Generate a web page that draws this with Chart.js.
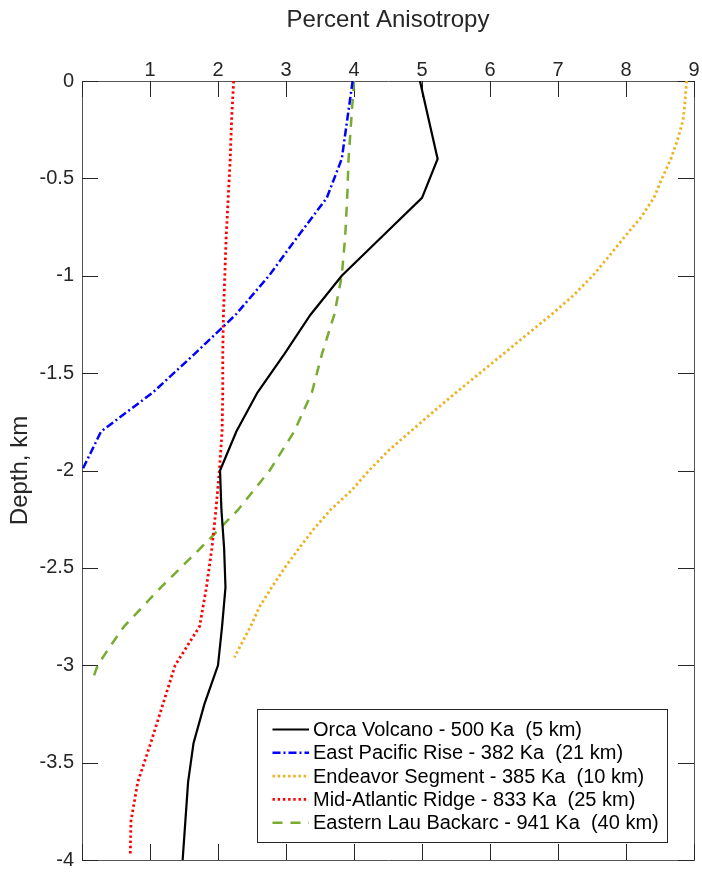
<!DOCTYPE html>
<html>
<head>
<meta charset="utf-8">
<script src="https://cdn.jsdelivr.net/npm/chart.js@4.4.1/dist/chart.umd.min.js"></script>
<style>
html,body{margin:0;padding:0;background:#fff;}
#wrap{width:702px;height:873px;position:relative;}
</style>
</head>
<body>
<div id="wrap"><canvas id="c"></canvas></div>
<script>
// ---- data ----
const xTickValues = [0, 1, 2, 3, 4, 5, 6, 7, 8, 9];
const yTickValues = [0, -0.5, -1, -1.5, -2, -2.5, -3, -3.5, -4];
const xTitle = 'Percent Anisotropy';
const yTitle = 'Depth, km';

const seriesLabels = [
  'Orca Volcano - 500 Ka  (5 km)',
  'East Pacific Rise - 382 Ka  (21 km)',
  'Endeavor Segment - 385 Ka  (10 km)',
  'Mid-Atlantic Ridge - 833 Ka  (25 km)',
  'Eastern Lau Backarc - 941 Ka  (40 km)'
];

const orcaDepth  = [0, -0.2, -0.4, -0.6, -0.8, -1.0, -1.2, -1.4, -1.6, -1.8, -2.0, -2.2, -2.4, -2.6, -2.8, -3.0, -3.2, -3.4, -3.6, -3.8, -4.0];
const orcaValues = [4.97, 5.10, 5.23, 5.00, 4.41, 3.82, 3.36, 2.98, 2.58, 2.27, 2.03, 2.05, 2.09, 2.11, 2.06, 2.00, 1.80, 1.64, 1.56, 1.52, 1.48];

const eprDepth  = [0, -0.2, -0.4, -0.6, -0.8, -1.0, -1.2, -1.4, -1.6, -1.8, -2.0];
const eprValues = [3.98, 3.90, 3.82, 3.60, 3.17, 2.75, 2.26, 1.66, 1.04, 0.28, 0.0];

const endDepth  = [0, -0.1, -0.2, -0.3, -0.4, -0.5, -0.6, -0.7, -0.8, -0.9, -1.0, -1.1, -1.2, -1.3, -1.4, -1.5, -1.6, -1.7, -1.8, -1.9, -2.0, -2.1, -2.2, -2.3, -2.4, -2.5, -2.6, -2.7, -2.8, -2.9, -2.96];
const endValues = [8.89, 8.87, 8.84, 8.76, 8.66, 8.53, 8.41, 8.22, 7.98, 7.75, 7.51, 7.23, 6.90, 6.55, 6.20, 5.85, 5.50, 5.16, 4.83, 4.50, 4.22, 3.97, 3.66, 3.41, 3.19, 2.98, 2.79, 2.61, 2.48, 2.33, 2.24];

const marDepth  = [0, -0.2, -0.4, -0.6, -0.8, -1.0, -1.2, -1.4, -1.6, -1.8, -2.0, -2.2, -2.4, -2.6, -2.8, -3.0, -3.2, -3.4, -3.6, -3.8, -3.97];
const marValues = [2.23, 2.20, 2.18, 2.15, 2.12, 2.10, 2.08, 2.07, 2.07, 2.06, 2.02, 1.97, 1.91, 1.83, 1.73, 1.37, 1.19, 1.01, 0.82, 0.72, 0.71];

const lauDepth  = [0, -0.2, -0.4, -0.6, -0.8, -1.0, -1.2, -1.4, -1.6, -1.8, -2.0, -2.2, -2.4, -2.6, -2.8, -2.9, -3.0, -3.07];
const lauValues = [4.00, 3.96, 3.92, 3.90, 3.87, 3.82, 3.71, 3.53, 3.38, 3.12, 2.76, 2.30, 1.74, 1.16, 0.62, 0.42, 0.23, 0.16];

// ---- build ----
const zip = (vals, depth) => vals.map((v, i) => ({x: v, y: depth[i]}));
const FONT = '"Liberation Sans", Arial, Helvetica, sans-serif';
const TXT = '#262626';

const styles = [
  {color: '#000000', dash: [], width: 2.2},
  {color: '#0000ff', dash: [8, 3, 2, 3], width: 2.5},
  {color: '#EDB120', dash: [2.4, 2.8], width: 2.8},
  {color: '#ff0000', dash: [2.4, 2.8], width: 2.8},
  {color: '#77AC30', dash: [10, 8], width: 2.5}
];
const seriesData = [
  zip(orcaValues, orcaDepth),
  zip(eprValues, eprDepth),
  zip(endValues, endDepth),
  zip(marValues, marDepth),
  zip(lauValues, lauDepth)
];

const datasets = seriesData.map((d, i) => ({
  label: seriesLabels[i],
  data: d,
  borderColor: styles[i].color,
  backgroundColor: styles[i].color,
  borderDash: styles[i].dash,
  borderWidth: styles[i].width,
  borderCapStyle: 'butt',
  pointRadius: 0,
  tension: 0,
  fill: false,
  xAxisID: 'x',
  yAxisID: 'y'
}));

const innerTicks = {
  id: 'innerTicks',
  beforeDatasetsDraw(chart) {
    const {ctx, chartArea: a, scales} = chart;
    const L = 16;
    ctx.save();
    ctx.strokeStyle = TXT;
    ctx.lineWidth = 1;
    ctx.beginPath();
    for (const t of scales.x.ticks) {
      const p = Math.round(scales.x.getPixelForValue(t.value)) + 0.5;
      ctx.moveTo(p, a.top); ctx.lineTo(p, a.top + L);
      ctx.moveTo(p, a.bottom); ctx.lineTo(p, a.bottom - L);
    }
    for (const t of scales.y.ticks) {
      const p = Math.round(scales.y.getPixelForValue(t.value)) + 0.5;
      ctx.moveTo(a.left, p); ctx.lineTo(a.left + L, p);
      ctx.moveTo(a.right, p); ctx.lineTo(a.right - L, p);
    }
    ctx.stroke();
    ctx.restore();
  }
};

const boxLegend = {
  id: 'boxLegend',
  afterDatasetsDraw(chart) {
    const {ctx, chartArea: a} = chart;
    const ds = chart.data.datasets;
    const right = a.right - 27, bottom = a.bottom - 18;
    const left = right - 410, top = bottom - 133;
    ctx.save();
    ctx.fillStyle = '#fff';
    ctx.fillRect(left, top, right - left, bottom - top);
    ctx.strokeStyle = TXT;
    ctx.lineWidth = 1;
    ctx.strokeRect(Math.round(left) + 0.5, Math.round(top) + 0.5, right - left, bottom - top);
    ctx.font = '20px ' + FONT;
    ctx.textBaseline = 'middle';
    ctx.textAlign = 'left';
    ds.forEach((d, i) => {
      const y = top + 20.5 + i * 23.3;
      ctx.beginPath();
      ctx.setLineDash(d.borderDash || []);
      ctx.strokeStyle = d.borderColor;
      ctx.lineWidth = d.borderWidth;
      ctx.moveTo(left + 15.5, y);
      ctx.lineTo(left + 52, y);
      ctx.stroke();
      ctx.setLineDash([]);
      ctx.fillStyle = '#000';
      ctx.fillText(d.label, left + 56, y + 1);
    });
    ctx.restore();
  }
};

new Chart(document.getElementById('c'), {
  type: 'line',
  data: {datasets},
  options: {
    responsive: true,
    maintainAspectRatio: false,
    animation: false,
    layout: {padding: 0},
    plugins: {legend: {display: false}, tooltip: {enabled: false}},
    scales: {
      x: {
        type: 'linear', position: 'top', min: 0, max: 9,
        afterBuildTicks: s => { s.ticks = xTickValues.map(v => ({value: v})); },
        afterFit: s => { s.height = 81; },
        grid: {display: false, drawTicks: false},
        border: {display: true, color: '#555', width: 1},
        ticks: {
          autoSkip: false, maxRotation: 0, padding: -1,
          color: TXT, font: {family: FONT, size: 20},
          callback: v => (v === 0 ? '' : String(v))
        },
        title: {display: true, text: xTitle, color: TXT, font: {family: FONT, size: 24}, padding: {top: 6, bottom: 0}}
      },
      x2: {
        type: 'linear', position: 'bottom', min: 0, max: 9,
        afterFit: s => { s.height = 13; },
        grid: {display: false, drawTicks: false},
        border: {display: true, color: '#555', width: 1},
        ticks: {display: false}
      },
      y: {
        type: 'linear', position: 'left', min: -4, max: 0,
        afterBuildTicks: s => { s.ticks = yTickValues.map(v => ({value: v})); },
        afterFit: s => { s.width = 82; },
        grid: {display: false, drawTicks: false},
        border: {display: true, color: '#555', width: 1},
        ticks: {
          autoSkip: false, padding: 8,
          color: TXT, font: {family: FONT, size: 20, lineHeight: 0.5},
          callback: v => String(v)
        },
        title: {display: true, text: yTitle, color: TXT, font: {family: FONT, size: 24}, padding: {top: 6, bottom: 0}}
      },
      y2: {
        type: 'linear', position: 'right', min: -4, max: 0,
        afterFit: s => { s.width = 8; },
        grid: {display: false, drawTicks: false},
        border: {display: true, color: '#555', width: 1},
        ticks: {display: false}
      }
    }
  },
  plugins: [innerTicks, boxLegend]
});
</script>
</body>
</html>
